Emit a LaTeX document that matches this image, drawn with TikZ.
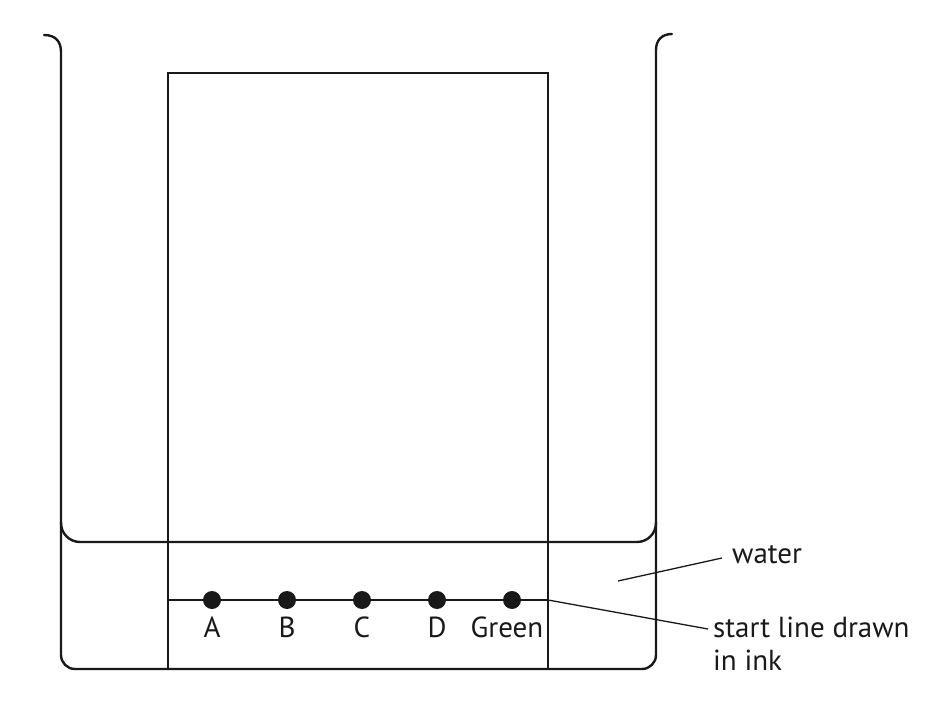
\documentclass[tikz,border=0pt]{standalone}
\usepackage{fontspec}
\setmainfont{PT Sans}
\begin{document}
\begin{tikzpicture}[x=1pt,y=-1pt,
  wall/.style={line width=2.4pt,draw=black!90,line cap=round},
  thin/.style={line width=1.6pt,draw=black!90},
  dot/.style={circle,fill=black!90,inner sep=0pt,minimum size=18pt},
  lbl/.style={font=\fontsize{29}{33}\selectfont,inner sep=0pt,text=black!90},
  ann/.style={font=\fontsize{29}{33}\selectfont,inner sep=0pt,text=black!90,align=left}]
\useasboundingbox (0,0) rectangle (930,706);
% beaker
\draw[wall] (44,35) .. controls (56,35) and (61,42) .. (61,52)
  [rounded corners=14pt] -- (61,669) -- (656,669) [sharp corners] -- (656,50);
\draw[wall] (656,50) .. controls (656,40) and (662,34) .. (672,34);
% water surface
\draw[wall,rounded corners=19pt] (61,522) -- (61,542) -- (656,542) -- (656,522);
% paper
\draw[thin] (168,669) -- (168,73) -- (548,73) -- (548,669);
% start line
\coordinate (sl) at (168,600);
\coordinate (sr) at (548,600);
\draw[thin] (sl) -- (sr);
\foreach \n/\x/\t in {a/212/A,b/287/B,c/362/C,d/437/D,g/507/Green}{
  \node[lbl,anchor=base] (\n l) at (\x,637) {\t};
}
\foreach \n/\x in {a/212,b/287,c/362,d/437,g/512}{
  \node[dot] (\n) at (\x,600) {};
}
% annotations
\node[ann,anchor=base west] (water) at (732,563) {water};
\node[ann,anchor=base west] (start) at (713,670) {start line drawn\\in ink};
\coordinate (wp) at (618,581);
\coordinate (we) at (722,558);
\coordinate (se) at (708,629);
\draw[line width=1.3pt,black!90] (wp) -- (we);
\draw[line width=1.3pt,black!90] (sr) -- (se);
\end{tikzpicture}
\end{document}
